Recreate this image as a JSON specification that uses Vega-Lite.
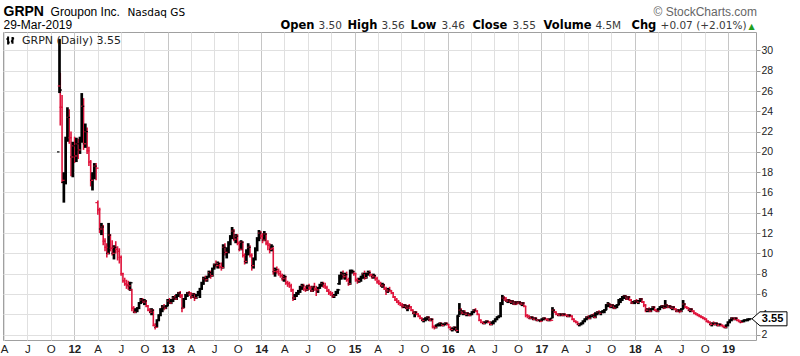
{
"$schema":"https://vega.github.io/schema/vega-lite/v6.json",
"width":753,"height":308,
"autosize":{"type":"none"},
"padding":{"left":3,"top":32,"right":44,"bottom":16},
"background":"white",
"config":{"view":{"stroke":"#a0a0a0","strokeWidth":1},"font":"Liberation Sans"},
"datasets":{"px":[
{"d":"2011-11-04","o":20,"h":31.14,"l":25.8,"c":26.1},
{"d":"2011-11-07","o":26.5,"h":27.8,"l":22.6,"c":24.4},
{"d":"2011-11-14","o":24.4,"h":25.6,"l":16.9,"c":17.2},
{"d":"2011-11-21","o":17.0,"h":18.0,"l":15.0,"c":17.8},
{"d":"2011-11-28","o":17.8,"h":21.5,"l":16.8,"c":21.2},
{"d":"2011-12-05","o":21.2,"h":24.4,"l":21.0,"c":23.4},
{"d":"2011-12-12","o":23.4,"h":24.2,"l":20.8,"c":21.4},
{"d":"2011-12-19","o":21.4,"h":22.0,"l":17.6,"c":19.5},
{"d":"2011-12-26","o":19.5,"h":21.0,"l":17.5,"c":20.6},
{"d":"2012-01-02","o":20.6,"h":21.5,"l":18.9,"c":19.6},
{"d":"2012-01-09","o":19.6,"h":21.4,"l":19.0,"c":20.8},
{"d":"2012-01-16","o":20.8,"h":21.3,"l":19.3,"c":20.2},
{"d":"2012-01-23","o":20.2,"h":21.5,"l":19.8,"c":21.2},
{"d":"2012-01-30","o":21.2,"h":25.8,"l":20.9,"c":24.5},
{"d":"2012-02-06","o":24.5,"h":25.3,"l":20.2,"c":20.8},
{"d":"2012-02-13","o":20.8,"h":22.8,"l":20.4,"c":22.0},
{"d":"2012-02-20","o":22.0,"h":22.4,"l":19.8,"c":20.1},
{"d":"2012-02-27","o":20.1,"h":20.5,"l":18.6,"c":19.0},
{"d":"2012-03-05","o":19.0,"h":19.2,"l":16.6,"c":17.2},
{"d":"2012-03-12","o":17.2,"h":18.0,"l":16.2,"c":17.7},
{"d":"2012-03-19","o":17.7,"h":18.9,"l":17.3,"c":18.6},
{"d":"2012-03-26","o":18.6,"h":18.9,"l":17.2,"c":18.4},
{"d":"2012-04-02","o":15.0,"h":15.2,"l":13.8,"c":14.3},
{"d":"2012-04-09","o":14.3,"h":14.5,"l":12.0,"c":12.4},
{"d":"2012-04-16","o":12.4,"h":13.0,"l":11.8,"c":12.6},
{"d":"2012-04-23","o":12.6,"h":12.8,"l":10.8,"c":11.2},
{"d":"2012-04-30","o":11.2,"h":11.5,"l":10.2,"c":10.6},
{"d":"2012-05-07","o":10.6,"h":11.0,"l":9.6,"c":10.0},
{"d":"2012-05-14","o":10.0,"h":13.0,"l":9.9,"c":11.8},
{"d":"2012-05-21","o":11.8,"h":11.9,"l":10.2,"c":10.5},
{"d":"2012-05-28","o":10.5,"h":11.3,"l":9.8,"c":10.0},
{"d":"2012-06-04","o":10.0,"h":10.8,"l":9.4,"c":10.6},
{"d":"2012-06-11","o":10.6,"h":11.2,"l":10.0,"c":10.4},
{"d":"2012-06-18","o":10.4,"h":10.7,"l":9.3,"c":10.2},
{"d":"2012-06-25","o":10.2,"h":10.5,"l":9.0,"c":9.6},
{"d":"2012-07-02","o":9.6,"h":9.8,"l":7.8,"c":8.0},
{"d":"2012-07-09","o":8.0,"h":8.1,"l":7.1,"c":7.3},
{"d":"2012-07-16","o":7.3,"h":7.6,"l":6.8,"c":7.0},
{"d":"2012-07-23","o":7.0,"h":7.4,"l":6.5,"c":6.9},
{"d":"2012-07-30","o":6.9,"h":7.3,"l":6.4,"c":6.8},
{"d":"2012-08-06","o":6.8,"h":7.2,"l":6.3,"c":7.1},
{"d":"2012-08-13","o":6.4,"h":6.5,"l":4.3,"c":4.6},
{"d":"2012-08-20","o":4.6,"h":4.8,"l":4.1,"c":4.2},
{"d":"2012-08-27","o":4.2,"h":4.6,"l":4.1,"c":4.4},
{"d":"2012-09-03","o":4.4,"h":4.7,"l":4.2,"c":4.6},
{"d":"2012-09-10","o":4.6,"h":5.2,"l":4.5,"c":5.1},
{"d":"2012-09-17","o":5.1,"h":5.6,"l":5.0,"c":5.4},
{"d":"2012-09-24","o":5.4,"h":5.6,"l":5.1,"c":5.2},
{"d":"2012-10-01","o":5.2,"h":5.5,"l":4.9,"c":5.3},
{"d":"2012-10-08","o":5.3,"h":5.4,"l":4.7,"c":4.8},
{"d":"2012-10-15","o":4.8,"h":4.9,"l":4.3,"c":4.4},
{"d":"2012-10-22","o":4.4,"h":4.6,"l":4.1,"c":4.2},
{"d":"2012-10-29","o":4.2,"h":4.6,"l":3.9,"c":4.4},
{"d":"2012-11-05","o":4.4,"h":4.5,"l":2.8,"c":2.9},
{"d":"2012-11-12","o":2.9,"h":3.1,"l":2.5,"c":2.7},
{"d":"2012-11-19","o":2.7,"h":3.5,"l":2.7,"c":3.4},
{"d":"2012-11-26","o":3.4,"h":4.0,"l":3.3,"c":3.9},
{"d":"2012-12-03","o":3.9,"h":4.6,"l":3.8,"c":4.4},
{"d":"2012-12-10","o":4.4,"h":4.9,"l":4.2,"c":4.7},
{"d":"2012-12-17","o":4.7,"h":5.0,"l":4.4,"c":4.6},
{"d":"2012-12-24","o":4.6,"h":4.9,"l":4.5,"c":4.8},
{"d":"2012-12-31","o":4.8,"h":5.5,"l":4.8,"c":5.3},
{"d":"2013-01-07","o":5.3,"h":5.6,"l":5.0,"c":5.1},
{"d":"2013-01-14","o":5.1,"h":5.5,"l":5.0,"c":5.4},
{"d":"2013-01-21","o":5.4,"h":5.8,"l":5.2,"c":5.6},
{"d":"2013-01-28","o":5.6,"h":5.9,"l":5.4,"c":5.5},
{"d":"2013-02-04","o":5.5,"h":6.0,"l":5.4,"c":5.9},
{"d":"2013-02-11","o":5.9,"h":6.2,"l":5.7,"c":6.1},
{"d":"2013-02-18","o":6.1,"h":6.3,"l":5.6,"c":5.8},
{"d":"2013-02-25","o":5.8,"h":6.0,"l":4.2,"c":4.6},
{"d":"2013-03-04","o":4.6,"h":5.6,"l":4.6,"c":5.5},
{"d":"2013-03-11","o":5.5,"h":6.0,"l":5.4,"c":5.9},
{"d":"2013-03-18","o":5.9,"h":6.2,"l":5.7,"c":6.1},
{"d":"2013-03-25","o":6.1,"h":6.3,"l":5.8,"c":6.0},
{"d":"2013-04-01","o":6.0,"h":6.2,"l":5.5,"c":5.7},
{"d":"2013-04-08","o":5.7,"h":6.1,"l":5.6,"c":6.0},
{"d":"2013-04-15","o":6.0,"h":6.1,"l":5.3,"c":5.6},
{"d":"2013-04-22","o":5.6,"h":6.0,"l":5.5,"c":5.9},
{"d":"2013-04-29","o":5.9,"h":6.3,"l":5.8,"c":6.2},
{"d":"2013-05-06","o":6.2,"h":6.6,"l":5.6,"c":6.5},
{"d":"2013-05-13","o":6.5,"h":7.2,"l":6.4,"c":7.0},
{"d":"2013-05-20","o":7.0,"h":7.7,"l":6.9,"c":7.5},
{"d":"2013-05-27","o":7.5,"h":7.8,"l":7.2,"c":7.4},
{"d":"2013-06-03","o":7.4,"h":7.8,"l":7.2,"c":7.7},
{"d":"2013-06-10","o":7.7,"h":8.3,"l":7.6,"c":8.1},
{"d":"2013-06-17","o":8.1,"h":8.3,"l":7.5,"c":7.8},
{"d":"2013-06-24","o":7.8,"h":8.6,"l":7.7,"c":8.5},
{"d":"2013-07-01","o":8.5,"h":9.0,"l":8.4,"c":8.9},
{"d":"2013-07-08","o":8.9,"h":9.3,"l":8.6,"c":8.8},
{"d":"2013-07-15","o":8.8,"h":9.2,"l":8.5,"c":9.0},
{"d":"2013-07-22","o":9.0,"h":9.1,"l":8.5,"c":8.7},
{"d":"2013-07-29","o":8.7,"h":9.1,"l":8.3,"c":8.6},
{"d":"2013-08-05","o":8.6,"h":10.9,"l":8.5,"c":10.6},
{"d":"2013-08-12","o":10.6,"h":11.0,"l":9.8,"c":10.1},
{"d":"2013-08-19","o":10.1,"h":10.6,"l":9.5,"c":10.4},
{"d":"2013-08-26","o":10.4,"h":11.2,"l":10.0,"c":11.0},
{"d":"2013-09-02","o":11.0,"h":11.8,"l":10.8,"c":11.6},
{"d":"2013-09-09","o":11.6,"h":12.6,"l":11.4,"c":12.2},
{"d":"2013-09-16","o":12.2,"h":12.4,"l":11.2,"c":11.4},
{"d":"2013-09-23","o":11.4,"h":11.9,"l":11.0,"c":11.7},
{"d":"2013-09-30","o":11.7,"h":11.9,"l":10.8,"c":11.0},
{"d":"2013-10-07","o":11.0,"h":11.2,"l":10.2,"c":10.4},
{"d":"2013-10-14","o":10.4,"h":11.3,"l":10.3,"c":11.1},
{"d":"2013-10-21","o":11.1,"h":11.2,"l":9.6,"c":9.8},
{"d":"2013-10-28","o":9.8,"h":10.0,"l":8.9,"c":9.2},
{"d":"2013-11-04","o":9.2,"h":10.4,"l":9.0,"c":10.2},
{"d":"2013-11-11","o":10.2,"h":11.0,"l":9.8,"c":10.6},
{"d":"2013-11-18","o":10.6,"h":10.8,"l":9.6,"c":9.8},
{"d":"2013-11-25","o":9.8,"h":10.0,"l":8.3,"c":8.8},
{"d":"2013-12-02","o":8.8,"h":9.6,"l":8.5,"c":9.4},
{"d":"2013-12-09","o":9.4,"h":10.6,"l":9.3,"c":10.4},
{"d":"2013-12-16","o":10.4,"h":11.6,"l":10.2,"c":11.4},
{"d":"2013-12-23","o":11.4,"h":12.3,"l":11.2,"c":12.0},
{"d":"2013-12-30","o":12.0,"h":12.2,"l":11.4,"c":11.7},
{"d":"2014-01-06","o":11.7,"h":12.0,"l":11.0,"c":11.3},
{"d":"2014-01-13","o":11.3,"h":12.2,"l":11.2,"c":11.9},
{"d":"2014-01-20","o":11.9,"h":12.0,"l":10.8,"c":11.0},
{"d":"2014-01-27","o":11.0,"h":11.3,"l":10.3,"c":10.8},
{"d":"2014-02-03","o":10.8,"h":11.0,"l":10.0,"c":10.4},
{"d":"2014-02-10","o":10.4,"h":10.9,"l":10.2,"c":10.7},
{"d":"2014-02-17","o":10.5,"h":10.6,"l":7.9,"c":8.2},
{"d":"2014-02-24","o":8.2,"h":8.6,"l":7.7,"c":8.4},
{"d":"2014-03-03","o":8.4,"h":8.7,"l":8.0,"c":8.2},
{"d":"2014-03-10","o":8.2,"h":8.5,"l":7.8,"c":8.0},
{"d":"2014-03-17","o":8.0,"h":8.3,"l":7.6,"c":7.8},
{"d":"2014-03-24","o":7.8,"h":8.0,"l":7.3,"c":7.5},
{"d":"2014-03-31","o":7.5,"h":7.9,"l":7.2,"c":7.7},
{"d":"2014-04-07","o":7.7,"h":7.8,"l":6.9,"c":7.1},
{"d":"2014-04-14","o":7.1,"h":7.3,"l":6.7,"c":7.0},
{"d":"2014-04-21","o":7.0,"h":7.2,"l":6.6,"c":6.8},
{"d":"2014-04-28","o":6.8,"h":7.0,"l":6.2,"c":6.4},
{"d":"2014-05-05","o":6.4,"h":6.5,"l":5.3,"c":5.6},
{"d":"2014-05-12","o":5.6,"h":6.0,"l":5.4,"c":5.9},
{"d":"2014-05-19","o":5.9,"h":6.2,"l":5.7,"c":6.1},
{"d":"2014-05-26","o":6.1,"h":6.4,"l":5.9,"c":6.3},
{"d":"2014-06-02","o":6.3,"h":6.8,"l":6.1,"c":6.6},
{"d":"2014-06-09","o":6.6,"h":7.0,"l":6.4,"c":6.8},
{"d":"2014-06-16","o":6.8,"h":7.0,"l":6.3,"c":6.5},
{"d":"2014-06-23","o":6.5,"h":6.8,"l":6.2,"c":6.4},
{"d":"2014-06-30","o":6.4,"h":6.9,"l":6.3,"c":6.8},
{"d":"2014-07-07","o":6.8,"h":7.0,"l":6.4,"c":6.6},
{"d":"2014-07-14","o":6.6,"h":6.8,"l":6.2,"c":6.3},
{"d":"2014-07-21","o":6.3,"h":6.8,"l":6.2,"c":6.7},
{"d":"2014-07-28","o":6.7,"h":7.1,"l":6.3,"c":6.5},
{"d":"2014-08-04","o":6.5,"h":6.8,"l":5.8,"c":6.4},
{"d":"2014-08-11","o":6.4,"h":6.7,"l":6.1,"c":6.6},
{"d":"2014-08-18","o":6.6,"h":7.0,"l":6.5,"c":6.9},
{"d":"2014-08-25","o":6.9,"h":7.2,"l":6.7,"c":7.0},
{"d":"2014-09-01","o":7.0,"h":7.2,"l":6.6,"c":6.8},
{"d":"2014-09-08","o":6.8,"h":7.1,"l":6.5,"c":6.6},
{"d":"2014-09-15","o":6.6,"h":6.8,"l":6.2,"c":6.3},
{"d":"2014-09-22","o":6.3,"h":6.5,"l":5.9,"c":6.1},
{"d":"2014-09-29","o":6.1,"h":6.3,"l":5.8,"c":6.0},
{"d":"2014-10-06","o":6.0,"h":6.2,"l":5.6,"c":5.8},
{"d":"2014-10-13","o":5.8,"h":6.0,"l":5.6,"c":5.9},
{"d":"2014-10-20","o":5.9,"h":6.3,"l":5.8,"c":6.2},
{"d":"2014-10-27","o":6.2,"h":6.5,"l":6.0,"c":6.4},
{"d":"2014-11-03","o":7.0,"h":7.9,"l":6.9,"c":7.6},
{"d":"2014-11-10","o":7.6,"h":8.2,"l":7.4,"c":8.0},
{"d":"2014-11-17","o":8.0,"h":8.3,"l":7.5,"c":7.7},
{"d":"2014-11-24","o":7.7,"h":8.1,"l":7.4,"c":7.9},
{"d":"2014-12-01","o":7.9,"h":8.2,"l":7.2,"c":7.4},
{"d":"2014-12-08","o":7.4,"h":7.6,"l":6.8,"c":7.0},
{"d":"2014-12-15","o":7.0,"h":8.4,"l":6.9,"c":8.2},
{"d":"2014-12-22","o":8.2,"h":8.4,"l":8.0,"c":8.2},
{"d":"2014-12-29","o":8.2,"h":8.3,"l":7.8,"c":8.0},
{"d":"2015-01-05","o":8.0,"h":8.1,"l":7.2,"c":7.4},
{"d":"2015-01-12","o":7.4,"h":7.6,"l":7.0,"c":7.3},
{"d":"2015-01-19","o":7.3,"h":7.6,"l":7.1,"c":7.5},
{"d":"2015-01-26","o":7.5,"h":7.8,"l":7.2,"c":7.6},
{"d":"2015-02-02","o":7.6,"h":8.1,"l":7.5,"c":8.0},
{"d":"2015-02-09","o":8.0,"h":8.3,"l":7.4,"c":7.6},
{"d":"2015-02-16","o":7.6,"h":8.1,"l":7.5,"c":8.0},
{"d":"2015-02-23","o":8.0,"h":8.3,"l":7.8,"c":8.1},
{"d":"2015-03-02","o":8.1,"h":8.3,"l":7.7,"c":7.9},
{"d":"2015-03-09","o":7.9,"h":8.0,"l":7.5,"c":7.7},
{"d":"2015-03-16","o":7.7,"h":8.0,"l":7.5,"c":7.8},
{"d":"2015-03-23","o":7.8,"h":7.9,"l":7.3,"c":7.5},
{"d":"2015-03-30","o":7.5,"h":7.7,"l":7.0,"c":7.2},
{"d":"2015-04-06","o":7.2,"h":7.4,"l":6.9,"c":7.0},
{"d":"2015-04-13","o":7.0,"h":7.2,"l":6.7,"c":6.8},
{"d":"2015-04-20","o":6.8,"h":7.1,"l":6.6,"c":6.9},
{"d":"2015-04-27","o":6.9,"h":7.0,"l":6.4,"c":6.5},
{"d":"2015-05-04","o":6.5,"h":6.7,"l":5.9,"c":6.3},
{"d":"2015-05-11","o":6.3,"h":6.6,"l":6.1,"c":6.4},
{"d":"2015-05-18","o":6.4,"h":6.7,"l":6.2,"c":6.3},
{"d":"2015-05-25","o":6.3,"h":6.4,"l":6.0,"c":6.1},
{"d":"2015-06-01","o":6.1,"h":6.2,"l":5.6,"c":5.7},
{"d":"2015-06-08","o":5.7,"h":5.8,"l":5.3,"c":5.4},
{"d":"2015-06-15","o":5.4,"h":5.6,"l":5.1,"c":5.2},
{"d":"2015-06-22","o":5.2,"h":5.4,"l":4.9,"c":5.1},
{"d":"2015-06-29","o":5.1,"h":5.2,"l":4.8,"c":4.9},
{"d":"2015-07-06","o":4.9,"h":5.1,"l":4.6,"c":4.8},
{"d":"2015-07-13","o":4.8,"h":5.0,"l":4.6,"c":4.9},
{"d":"2015-07-20","o":4.9,"h":5.0,"l":4.5,"c":4.6},
{"d":"2015-07-27","o":4.6,"h":4.9,"l":4.3,"c":4.8},
{"d":"2015-08-03","o":4.8,"h":5.0,"l":4.5,"c":4.7},
{"d":"2015-08-10","o":4.7,"h":4.8,"l":4.3,"c":4.4},
{"d":"2015-08-17","o":4.4,"h":4.5,"l":4.0,"c":4.1},
{"d":"2015-08-24","o":4.1,"h":4.3,"l":3.7,"c":4.2},
{"d":"2015-08-31","o":4.2,"h":4.3,"l":3.9,"c":4.0},
{"d":"2015-09-07","o":4.0,"h":4.1,"l":3.7,"c":3.8},
{"d":"2015-09-14","o":3.8,"h":3.9,"l":3.5,"c":3.6},
{"d":"2015-09-21","o":3.6,"h":3.7,"l":3.3,"c":3.4},
{"d":"2015-09-28","o":3.4,"h":3.6,"l":3.2,"c":3.5},
{"d":"2015-10-05","o":3.5,"h":3.7,"l":3.3,"c":3.6},
{"d":"2015-10-12","o":3.6,"h":3.8,"l":3.4,"c":3.7},
{"d":"2015-10-19","o":3.7,"h":3.8,"l":3.3,"c":3.4},
{"d":"2015-10-26","o":3.4,"h":3.6,"l":3.3,"c":3.5},
{"d":"2015-11-02","o":3.5,"h":3.6,"l":2.6,"c":2.8},
{"d":"2015-11-09","o":2.8,"h":2.9,"l":2.5,"c":2.7},
{"d":"2015-11-16","o":2.7,"h":3.0,"l":2.6,"c":2.9},
{"d":"2015-11-23","o":2.9,"h":3.1,"l":2.8,"c":3.0},
{"d":"2015-11-30","o":3.0,"h":3.2,"l":2.8,"c":3.1},
{"d":"2015-12-07","o":3.1,"h":3.2,"l":2.8,"c":2.9},
{"d":"2015-12-14","o":2.9,"h":3.1,"l":2.8,"c":3.0},
{"d":"2015-12-21","o":3.0,"h":3.2,"l":2.9,"c":3.1},
{"d":"2015-12-28","o":3.1,"h":3.2,"l":2.9,"c":3.0},
{"d":"2016-01-04","o":3.0,"h":3.0,"l":2.6,"c":2.7},
{"d":"2016-01-11","o":2.7,"h":2.8,"l":2.4,"c":2.5},
{"d":"2016-01-18","o":2.5,"h":2.7,"l":2.3,"c":2.6},
{"d":"2016-01-25","o":2.6,"h":2.8,"l":2.4,"c":2.7},
{"d":"2016-02-01","o":2.7,"h":2.8,"l":2.3,"c":2.4},
{"d":"2016-02-08","o":2.4,"h":3.9,"l":2.15,"c":3.8},
{"d":"2016-02-15","o":3.9,"h":5.1,"l":3.9,"c":4.4},
{"d":"2016-02-22","o":4.4,"h":4.6,"l":4.0,"c":4.1},
{"d":"2016-02-29","o":4.1,"h":4.4,"l":3.9,"c":4.2},
{"d":"2016-03-07","o":4.2,"h":4.4,"l":3.9,"c":4.0},
{"d":"2016-03-14","o":4.0,"h":4.2,"l":3.8,"c":4.1},
{"d":"2016-03-21","o":4.1,"h":4.2,"l":3.8,"c":3.9},
{"d":"2016-03-28","o":3.9,"h":4.1,"l":3.8,"c":4.0},
{"d":"2016-04-04","o":4.0,"h":4.3,"l":3.9,"c":4.2},
{"d":"2016-04-11","o":4.2,"h":4.5,"l":4.1,"c":4.4},
{"d":"2016-04-18","o":4.4,"h":4.6,"l":4.2,"c":4.3},
{"d":"2016-04-25","o":4.3,"h":4.4,"l":3.9,"c":4.0},
{"d":"2016-05-02","o":4.0,"h":4.0,"l":3.3,"c":3.4},
{"d":"2016-05-09","o":3.4,"h":3.5,"l":3.1,"c":3.2},
{"d":"2016-05-16","o":3.2,"h":3.3,"l":3.0,"c":3.1},
{"d":"2016-05-23","o":3.1,"h":3.3,"l":3.0,"c":3.2},
{"d":"2016-05-30","o":3.2,"h":3.4,"l":3.1,"c":3.3},
{"d":"2016-06-06","o":3.3,"h":3.4,"l":3.1,"c":3.2},
{"d":"2016-06-13","o":3.2,"h":3.3,"l":2.9,"c":3.0},
{"d":"2016-06-20","o":3.0,"h":3.3,"l":2.9,"c":3.1},
{"d":"2016-06-27","o":3.1,"h":3.4,"l":3.0,"c":3.3},
{"d":"2016-07-04","o":3.3,"h":3.6,"l":3.2,"c":3.5},
{"d":"2016-07-11","o":3.5,"h":3.8,"l":3.4,"c":3.7},
{"d":"2016-07-18","o":3.7,"h":3.9,"l":3.6,"c":3.8},
{"d":"2016-07-25","o":3.8,"h":5.2,"l":3.7,"c":5.0},
{"d":"2016-08-01","o":5.0,"h":5.9,"l":4.9,"c":5.6},
{"d":"2016-08-08","o":5.6,"h":5.8,"l":5.3,"c":5.5},
{"d":"2016-08-15","o":5.5,"h":5.7,"l":5.2,"c":5.3},
{"d":"2016-08-22","o":5.3,"h":5.5,"l":5.1,"c":5.4},
{"d":"2016-08-29","o":5.4,"h":5.5,"l":5.1,"c":5.2},
{"d":"2016-09-05","o":5.2,"h":5.4,"l":5.0,"c":5.3},
{"d":"2016-09-12","o":5.3,"h":5.4,"l":4.9,"c":5.0},
{"d":"2016-09-19","o":5.0,"h":5.3,"l":4.9,"c":5.2},
{"d":"2016-09-26","o":5.2,"h":5.3,"l":4.9,"c":5.1},
{"d":"2016-10-03","o":5.1,"h":5.3,"l":5.0,"c":5.2},
{"d":"2016-10-10","o":5.2,"h":5.3,"l":4.9,"c":5.0},
{"d":"2016-10-17","o":5.0,"h":5.2,"l":4.8,"c":5.1},
{"d":"2016-10-24","o":5.1,"h":5.2,"l":4.7,"c":4.8},
{"d":"2016-10-31","o":4.8,"h":4.8,"l":3.7,"c":3.9},
{"d":"2016-11-07","o":3.9,"h":4.0,"l":3.6,"c":3.8},
{"d":"2016-11-14","o":3.8,"h":3.9,"l":3.5,"c":3.6},
{"d":"2016-11-21","o":3.6,"h":3.8,"l":3.5,"c":3.7},
{"d":"2016-11-28","o":3.7,"h":3.8,"l":3.4,"c":3.5},
{"d":"2016-12-05","o":3.5,"h":3.7,"l":3.4,"c":3.6},
{"d":"2016-12-12","o":3.6,"h":3.7,"l":3.3,"c":3.4},
{"d":"2016-12-19","o":3.4,"h":3.5,"l":3.3,"c":3.4},
{"d":"2016-12-26","o":3.4,"h":3.5,"l":3.2,"c":3.3},
{"d":"2017-01-02","o":3.3,"h":3.6,"l":3.3,"c":3.5},
{"d":"2017-01-09","o":3.5,"h":3.7,"l":3.4,"c":3.6},
{"d":"2017-01-16","o":3.6,"h":3.7,"l":3.4,"c":3.5},
{"d":"2017-01-23","o":3.5,"h":3.6,"l":3.3,"c":3.4},
{"d":"2017-01-30","o":3.4,"h":3.6,"l":3.3,"c":3.5},
{"d":"2017-02-06","o":3.5,"h":3.6,"l":3.3,"c":3.4},
{"d":"2017-02-13","o":3.6,"h":4.7,"l":3.6,"c":4.4},
{"d":"2017-02-20","o":4.4,"h":4.5,"l":4.1,"c":4.2},
{"d":"2017-02-27","o":4.2,"h":4.3,"l":3.9,"c":4.0},
{"d":"2017-03-06","o":4.0,"h":4.1,"l":3.8,"c":3.9},
{"d":"2017-03-13","o":3.9,"h":4.1,"l":3.8,"c":4.0},
{"d":"2017-03-20","o":4.0,"h":4.1,"l":3.8,"c":3.9},
{"d":"2017-03-27","o":3.9,"h":4.1,"l":3.8,"c":4.0},
{"d":"2017-04-03","o":4.0,"h":4.1,"l":3.8,"c":3.9},
{"d":"2017-04-10","o":3.9,"h":4.0,"l":3.7,"c":3.8},
{"d":"2017-04-17","o":3.8,"h":4.0,"l":3.7,"c":3.9},
{"d":"2017-04-24","o":3.9,"h":4.0,"l":3.7,"c":3.8},
{"d":"2017-05-01","o":3.8,"h":3.9,"l":3.4,"c":3.5},
{"d":"2017-05-08","o":3.5,"h":3.6,"l":3.2,"c":3.3},
{"d":"2017-05-15","o":3.3,"h":3.4,"l":3.1,"c":3.2},
{"d":"2017-05-22","o":3.2,"h":3.3,"l":2.9,"c":3.0},
{"d":"2017-05-29","o":3.0,"h":3.1,"l":2.8,"c":3.0},
{"d":"2017-06-05","o":3.0,"h":3.2,"l":2.9,"c":3.1},
{"d":"2017-06-12","o":3.1,"h":3.4,"l":3.0,"c":3.3},
{"d":"2017-06-19","o":3.3,"h":3.6,"l":3.2,"c":3.5},
{"d":"2017-06-26","o":3.5,"h":3.8,"l":3.4,"c":3.7},
{"d":"2017-07-03","o":3.7,"h":3.9,"l":3.5,"c":3.6},
{"d":"2017-07-10","o":3.6,"h":3.9,"l":3.5,"c":3.8},
{"d":"2017-07-17","o":3.8,"h":4.0,"l":3.7,"c":3.9},
{"d":"2017-07-24","o":3.9,"h":4.1,"l":3.6,"c":3.7},
{"d":"2017-07-31","o":3.7,"h":4.2,"l":3.6,"c":4.0},
{"d":"2017-08-07","o":4.0,"h":4.3,"l":3.9,"c":4.2},
{"d":"2017-08-14","o":4.2,"h":4.4,"l":4.0,"c":4.1},
{"d":"2017-08-21","o":4.1,"h":4.3,"l":3.9,"c":4.2},
{"d":"2017-08-28","o":4.2,"h":4.4,"l":4.1,"c":4.3},
{"d":"2017-09-04","o":4.3,"h":4.5,"l":4.1,"c":4.4},
{"d":"2017-09-11","o":4.4,"h":5.0,"l":4.4,"c":4.9},
{"d":"2017-09-18","o":4.9,"h":5.2,"l":4.7,"c":5.0},
{"d":"2017-09-25","o":5.0,"h":5.1,"l":4.6,"c":4.8},
{"d":"2017-10-02","o":4.8,"h":5.0,"l":4.6,"c":4.9},
{"d":"2017-10-09","o":4.9,"h":5.0,"l":4.5,"c":4.6},
{"d":"2017-10-16","o":4.6,"h":4.9,"l":4.5,"c":4.8},
{"d":"2017-10-23","o":4.8,"h":5.0,"l":4.6,"c":4.9},
{"d":"2017-10-30","o":4.9,"h":5.5,"l":4.9,"c":5.3},
{"d":"2017-11-06","o":5.3,"h":5.6,"l":5.1,"c":5.4},
{"d":"2017-11-13","o":5.4,"h":5.8,"l":5.3,"c":5.7},
{"d":"2017-11-20","o":5.7,"h":5.9,"l":5.5,"c":5.8},
{"d":"2017-11-27","o":5.8,"h":5.9,"l":5.4,"c":5.5},
{"d":"2017-12-04","o":5.5,"h":5.8,"l":5.4,"c":5.7},
{"d":"2017-12-11","o":5.7,"h":5.8,"l":5.3,"c":5.4},
{"d":"2017-12-18","o":5.4,"h":5.5,"l":5.0,"c":5.1},
{"d":"2017-12-25","o":5.1,"h":5.3,"l":5.0,"c":5.1},
{"d":"2018-01-01","o":5.1,"h":5.4,"l":5.0,"c":5.3},
{"d":"2018-01-08","o":5.3,"h":5.5,"l":5.1,"c":5.2},
{"d":"2018-01-15","o":5.2,"h":5.4,"l":5.0,"c":5.3},
{"d":"2018-01-22","o":5.3,"h":5.6,"l":5.2,"c":5.5},
{"d":"2018-01-29","o":5.5,"h":5.6,"l":5.1,"c":5.2},
{"d":"2018-02-05","o":5.2,"h":5.3,"l":4.7,"c":4.9},
{"d":"2018-02-12","o":4.9,"h":5.0,"l":4.2,"c":4.4},
{"d":"2018-02-19","o":4.4,"h":4.6,"l":4.2,"c":4.5},
{"d":"2018-02-26","o":4.5,"h":4.7,"l":4.2,"c":4.3},
{"d":"2018-03-05","o":4.3,"h":4.6,"l":4.2,"c":4.5},
{"d":"2018-03-12","o":4.5,"h":4.8,"l":4.4,"c":4.7},
{"d":"2018-03-19","o":4.7,"h":4.8,"l":4.3,"c":4.4},
{"d":"2018-03-26","o":4.4,"h":4.5,"l":4.2,"c":4.3},
{"d":"2018-04-02","o":4.3,"h":4.6,"l":4.2,"c":4.5},
{"d":"2018-04-09","o":4.5,"h":4.8,"l":4.4,"c":4.7},
{"d":"2018-04-16","o":4.7,"h":4.9,"l":4.6,"c":4.8},
{"d":"2018-04-23","o":4.8,"h":4.9,"l":4.5,"c":4.6},
{"d":"2018-04-30","o":4.6,"h":5.4,"l":4.6,"c":4.9},
{"d":"2018-05-07","o":4.9,"h":5.0,"l":4.6,"c":4.7},
{"d":"2018-05-14","o":4.7,"h":4.9,"l":4.6,"c":4.8},
{"d":"2018-05-21","o":4.8,"h":4.9,"l":4.5,"c":4.6},
{"d":"2018-05-28","o":4.6,"h":4.8,"l":4.4,"c":4.7},
{"d":"2018-06-04","o":4.7,"h":4.8,"l":4.4,"c":4.5},
{"d":"2018-06-11","o":4.5,"h":4.6,"l":4.2,"c":4.3},
{"d":"2018-06-18","o":4.3,"h":4.5,"l":4.2,"c":4.4},
{"d":"2018-06-25","o":4.4,"h":4.5,"l":4.1,"c":4.3},
{"d":"2018-07-02","o":4.3,"h":4.6,"l":4.2,"c":4.5},
{"d":"2018-07-09","o":4.5,"h":5.4,"l":4.5,"c":5.0},
{"d":"2018-07-16","o":5.0,"h":5.1,"l":4.6,"c":4.7},
{"d":"2018-07-23","o":4.7,"h":4.8,"l":4.5,"c":4.6},
{"d":"2018-07-30","o":4.6,"h":4.7,"l":4.3,"c":4.4},
{"d":"2018-08-06","o":4.4,"h":4.6,"l":4.2,"c":4.5},
{"d":"2018-08-13","o":4.5,"h":4.6,"l":4.2,"c":4.3},
{"d":"2018-08-20","o":4.3,"h":4.4,"l":4.0,"c":4.1},
{"d":"2018-08-27","o":4.1,"h":4.2,"l":3.9,"c":4.0},
{"d":"2018-09-03","o":4.0,"h":4.1,"l":3.8,"c":3.9},
{"d":"2018-09-10","o":3.9,"h":4.0,"l":3.7,"c":3.8},
{"d":"2018-09-17","o":3.8,"h":3.9,"l":3.6,"c":3.7},
{"d":"2018-09-24","o":3.7,"h":3.8,"l":3.5,"c":3.6},
{"d":"2018-10-01","o":3.6,"h":3.7,"l":3.4,"c":3.5},
{"d":"2018-10-08","o":3.5,"h":3.6,"l":3.2,"c":3.3},
{"d":"2018-10-15","o":3.3,"h":3.4,"l":3.1,"c":3.2},
{"d":"2018-10-22","o":3.2,"h":3.3,"l":2.9,"c":3.0},
{"d":"2018-10-29","o":3.0,"h":3.2,"l":2.8,"c":3.1},
{"d":"2018-11-05","o":3.1,"h":3.3,"l":2.9,"c":3.0},
{"d":"2018-11-12","o":3.0,"h":3.2,"l":2.9,"c":3.1},
{"d":"2018-11-19","o":3.1,"h":3.2,"l":2.8,"c":2.9},
{"d":"2018-11-26","o":2.9,"h":3.1,"l":2.8,"c":3.0},
{"d":"2018-12-03","o":3.0,"h":3.1,"l":2.8,"c":2.9},
{"d":"2018-12-10","o":2.9,"h":3.0,"l":2.7,"c":2.8},
{"d":"2018-12-17","o":2.8,"h":2.9,"l":2.6,"c":2.7},
{"d":"2018-12-24","o":2.7,"h":3.0,"l":2.6,"c":2.9},
{"d":"2018-12-31","o":2.9,"h":3.3,"l":2.8,"c":3.2},
{"d":"2019-01-07","o":3.2,"h":3.5,"l":3.1,"c":3.4},
{"d":"2019-01-14","o":3.4,"h":3.7,"l":3.3,"c":3.6},
{"d":"2019-01-21","o":3.6,"h":3.7,"l":3.4,"c":3.5},
{"d":"2019-01-28","o":3.5,"h":3.7,"l":3.4,"c":3.6},
{"d":"2019-02-04","o":3.6,"h":3.7,"l":3.3,"c":3.4},
{"d":"2019-02-11","o":3.4,"h":3.5,"l":3.2,"c":3.3},
{"d":"2019-02-18","o":3.3,"h":3.4,"l":3.1,"c":3.2},
{"d":"2019-02-25","o":3.2,"h":3.4,"l":3.2,"c":3.3},
{"d":"2019-03-04","o":3.3,"h":3.5,"l":3.2,"c":3.4},
{"d":"2019-03-11","o":3.4,"h":3.5,"l":3.3,"c":3.4},
{"d":"2019-03-18","o":3.4,"h":3.6,"l":3.3,"c":3.5},
{"d":"2019-03-25","o":3.45,"h":3.6,"l":3.4,"c":3.55}
],
"last":[{"d":"2019-03-29","p":3.55}]},
"layer":[
{
"data":{"name":"px"},
"transform":[{"calculate":"datum.c >= datum.o ? 'GRPN (Daily) 3.55' : 'down'","as":"dir"},{"calculate":"datum.c >= datum.o ? 1 : 0","as":"up"}],
"mark":{"type":"rule"},
"encoding":{
"x":{"field":"d","type":"temporal","scale":{"domain":[{"year":2011,"month":3,"date":28},{"year":2019,"month":4,"date":20}]},
"axis":{"orient":"bottom","title":null,
"values":[{"year":2011,"month":4,"date":1},{"year":2011,"month":7,"date":1},{"year":2011,"month":10,"date":1},
{"year":2012,"month":1,"date":1},{"year":2012,"month":4,"date":1},{"year":2012,"month":7,"date":1},{"year":2012,"month":10,"date":1},
{"year":2013,"month":1,"date":1},{"year":2013,"month":4,"date":1},{"year":2013,"month":7,"date":1},{"year":2013,"month":10,"date":1},
{"year":2014,"month":1,"date":1},{"year":2014,"month":4,"date":1},{"year":2014,"month":7,"date":1},{"year":2014,"month":10,"date":1},
{"year":2015,"month":1,"date":1},{"year":2015,"month":4,"date":1},{"year":2015,"month":7,"date":1},{"year":2015,"month":10,"date":1},
{"year":2016,"month":1,"date":1},{"year":2016,"month":4,"date":1},{"year":2016,"month":7,"date":1},{"year":2016,"month":10,"date":1},
{"year":2017,"month":1,"date":1},{"year":2017,"month":4,"date":1},{"year":2017,"month":7,"date":1},{"year":2017,"month":10,"date":1},
{"year":2018,"month":1,"date":1},{"year":2018,"month":4,"date":1},{"year":2018,"month":7,"date":1},{"year":2018,"month":10,"date":1},
{"year":2019,"month":1,"date":1}],
"labelExpr":"month(datum.value) == 0 ? timeFormat(datum.value, '%y') : ['J','F','M','A','M','J','J','A','S','O','N','D'][month(datum.value)]",
"labelFontWeight":{"condition":{"test":"month(datum.value) == 0","value":"bold"},"value":"normal"},
"gridColor":{"condition":{"test":"month(datum.value) == 0","value":"#c6c6c6"},"value":"#e0e0e0"},
"grid":true,"domain":false,"ticks":false,"tickSize":0,"labelPadding":3,
"labelFont":"Liberation Sans","labelFontSize":11.5,"labelColor":"#222222","labelAngle":0,"labelAlign":"center","labelBaseline":"top",
"labelOverlap":false,"labelFlush":false,"labelBound":false}},
"y":{"field":"l","type":"quantitative","scale":{"domain":[1.46,31.82],"nice":false,"zero":false},
"axis":{"orient":"right","title":null,"values":[2,4,6,8,10,12,14,16,18,20,22,24,26,28,30],"grid":true,"gridColor":"#e0e0e0","domain":false,"ticks":true,"tickSize":4,"tickColor":"#999999","labelPadding":1,"labelFont":"Liberation Sans","labelFontSize":10.5,"labelColor":"#222222","labelOverlap":false,"labelFlush":false,"labelBound":false}},
"y2":{"field":"h"},
"order":{"field":"up","type":"quantitative"},
"strokeWidth":{"condition":{"test":"datum.c < datum.o","value":1.6},"value":2.7},
"color":{"field":"dir","type":"nominal","scale":{"domain":["GRPN (Daily) 3.55","down"],"range":["#000000","#e0143c"]},
"legend":{"title":null,"orient":"none","legendX":2,"legendY":3,"values":["GRPN (Daily) 3.55"],
"symbolType":"M-0.6,-1V1M-1,-0.4H-0.6M-0.6,0.5H-0.2M0.5,-0.9V0.8M0.1,0.2H0.5M0.5,-0.5H0.9",
"symbolSize":64,"symbolStrokeWidth":2,"labelFont":"DejaVu Sans","labelFontSize":11,"labelColor":"#222222","labelOffset":6,"padding":0}}
}
},
{
"data":{"name":"px"},
"transform":[{"calculate":"datum.c >= datum.o ? 'GRPN (Daily) 3.55' : 'down'","as":"dir"}],
"mark":{"type":"point","shape":"M-1,0H0","filled":false,"size":25,"strokeWidth":1.2,"opacity":1},
"encoding":{
"x":{"field":"d","type":"temporal","scale":{"domain":[{"year":2011,"month":3,"date":28},{"year":2019,"month":4,"date":20}]},
"axis":{"orient":"top","title":null,"offset":0,"grid":false,"domain":false,"ticks":false,"tickSize":0,"labelPadding":4,
"labelAlign":"left","labelBaseline":"alphabetic","labelAngle":0,"labelOverlap":false,"labelFlush":false,"labelBound":false,
"values":[{"year":2011,"month":3,"date":28},{"year":2014,"month":3,"date":15},{"year":2014,"month":8,"date":11},{"year":2014,"month":12,"date":2},{"year":2015,"month":4,"date":14},{"year":2015,"month":8,"date":6},{"year":2015,"month":12,"date":5},{"year":2016,"month":4,"date":4},{"year":2016,"month":9,"date":8},{"year":2017,"month":1,"date":7},{"year":2017,"month":7,"date":29},{"year":2017,"month":12,"date":17},{"year":2018,"month":4,"date":10},{"year":2019,"month":3,"date":20}],
"labelExpr":"['29-Mar-2019','Open','3.50','High','3.56','Low','3.46','Close','3.55','Volume','4.5M','Chg','+0.07 (+2.01%)','▲'][indexof(['2011-03-28','2014-03-15','2014-08-11','2014-12-02','2015-04-14','2015-08-06','2015-12-05','2016-04-04','2016-09-08','2017-01-07','2017-07-29','2017-12-17','2018-04-10','2019-03-20'], timeFormat(datum.value, '%Y-%m-%d'))]",
"labelFont":{"condition":{"test":"timeFormat(datum.value, '%Y-%m-%d') == '2011-03-28'","value":"Liberation Sans"},"value":"DejaVu Sans"},
"labelFontWeight":{"condition":{"test":"indexof(['2014-03-15','2014-12-02','2015-08-06','2016-04-04','2017-01-07','2017-12-17'], timeFormat(datum.value, '%Y-%m-%d')) >= 0","value":"bold"},"value":"normal"},
"labelFontSize":{"condition":[{"test":"timeFormat(datum.value, '%Y-%m-%d') == '2019-03-20'","value":8},{"test":"timeFormat(datum.value, '%Y-%m-%d') == '2011-03-28'","value":12},{"test":"indexof(['2014-03-15','2014-12-02','2015-08-06','2016-04-04','2017-01-07','2017-12-17'], timeFormat(datum.value, '%Y-%m-%d')) >= 0","value":11.5}],"value":10.5},
"labelColor":{"condition":[{"test":"timeFormat(datum.value, '%Y-%m-%d') == '2019-03-20'","value":"#1f9e1f"},{"test":"indexof(['2011-03-28','2014-03-15','2014-12-02','2015-08-06','2016-04-04','2017-01-07','2017-12-17'], timeFormat(datum.value, '%Y-%m-%d')) >= 0","value":"#000000"}],"value":"#3a3a3a"}}},
"y":{"field":"o","type":"quantitative","scale":{"domain":[1.46,31.82],"nice":false,"zero":false},
"axis":{"orient":"right","title":null,"values":[2,4,6,8,10,12,14,16,18,20,22,24,26,28,30],"grid":true,"gridColor":"#e0e0e0","domain":false,"ticks":true,"tickSize":4,"tickColor":"#999999","labelPadding":1,"labelFont":"Liberation Sans","labelFontSize":10.5,"labelColor":"#222222","labelOverlap":false,"labelFlush":false,"labelBound":false}},
"color":{"field":"dir","type":"nominal","scale":{"domain":["GRPN (Daily) 3.55","down"],"range":["#000000","#e0143c"]},"legend":null}
}
},
{
"data":{"name":"px"},
"transform":[{"calculate":"datum.c >= datum.o ? 'GRPN (Daily) 3.55' : 'down'","as":"dir"}],
"mark":{"type":"point","shape":"M0,0H1","filled":false,"size":25,"strokeWidth":1.2,"opacity":1},
"encoding":{
"x":{"field":"d","type":"temporal","scale":{"domain":[{"year":2011,"month":3,"date":28},{"year":2019,"month":4,"date":20}]},
"axis":{"orient":"top","title":null,"offset":13,"grid":false,"domain":false,"ticks":false,"tickSize":0,"labelPadding":4,
"labelAlign":"left","labelBaseline":"alphabetic","labelAngle":0,"labelOverlap":false,"labelFlush":false,"labelBound":false,
"values":[{"year":2011,"month":3,"date":28},{"year":2011,"month":9,"date":28},{"year":2012,"month":7,"date":25},{"year":2018,"month":3,"date":13}],
"labelExpr":"['GRPN','Groupon Inc.','Nasdaq GS','© StockCharts.com'][indexof(['2011-03-28','2011-09-28','2012-07-25','2018-03-13'], timeFormat(datum.value, '%Y-%m-%d'))]",
"labelFont":{"condition":{"test":"timeFormat(datum.value, '%Y-%m-%d') == '2012-07-25'","value":"DejaVu Sans"},"value":"Liberation Sans"},
"labelFontWeight":{"condition":{"test":"timeFormat(datum.value, '%Y-%m-%d') == '2011-03-28'","value":"bold"},"value":"normal"},
"labelFontSize":{"condition":[{"test":"timeFormat(datum.value, '%Y-%m-%d') == '2011-03-28'","value":14},{"test":"timeFormat(datum.value, '%Y-%m-%d') == '2012-07-25'","value":10.5}],"value":12},
"labelColor":{"condition":{"test":"timeFormat(datum.value, '%Y-%m-%d') == '2018-03-13'","value":"#666666"},"value":"#000000"}}},
"y":{"field":"c","type":"quantitative","scale":{"domain":[1.46,31.82],"nice":false,"zero":false},
"axis":{"orient":"right","title":null,"values":[2,4,6,8,10,12,14,16,18,20,22,24,26,28,30],"grid":true,"gridColor":"#e0e0e0","domain":false,"ticks":true,"tickSize":4,"tickColor":"#999999","labelPadding":1,"labelFont":"Liberation Sans","labelFontSize":10.5,"labelColor":"#222222","labelOverlap":false,"labelFlush":false,"labelBound":false}},
"color":{"field":"dir","type":"nominal","scale":{"domain":["GRPN (Daily) 3.55","down"],"range":["#000000","#e0143c"]},"legend":null}
}
},
{
"data":{"name":"last"},
"mark":{"type":"point","shape":"M0.32,0L1.92,-1.4H7.32V1.4H1.92Z","size":100,"filled":true,"fill":"#ffffff","stroke":"#000000","strokeWidth":1,"opacity":1},
"encoding":{
"x":{"field":"d","type":"temporal","scale":{"domain":[{"year":2011,"month":3,"date":28},{"year":2019,"month":4,"date":20}]},"axis":null},
"y":{"field":"p","type":"quantitative","scale":{"domain":[1.46,31.82],"nice":false,"zero":false},
"axis":{"orient":"right","title":null,"values":[2,4,6,8,10,12,14,16,18,20,22,24,26,28,30],"grid":true,"gridColor":"#e0e0e0","domain":false,"ticks":true,"tickSize":4,"tickColor":"#999999","labelPadding":1,"labelFont":"Liberation Sans","labelFontSize":10.5,"labelColor":"#222222","labelOverlap":false,"labelFlush":false,"labelBound":false}}
}
},
{
"data":{"name":"last"},
"mark":{"type":"text","align":"left","baseline":"middle","dx":11.5,"font":"Liberation Sans","fontWeight":"bold","fontSize":11,"color":"#000000"},
"encoding":{
"x":{"field":"d","type":"temporal","scale":{"domain":[{"year":2011,"month":3,"date":28},{"year":2019,"month":4,"date":20}]},"axis":null},
"y":{"field":"p","type":"quantitative","scale":{"domain":[1.46,31.82],"nice":false,"zero":false},
"axis":{"orient":"right","title":null,"values":[2,4,6,8,10,12,14,16,18,20,22,24,26,28,30],"grid":true,"gridColor":"#e0e0e0","domain":false,"ticks":true,"tickSize":4,"tickColor":"#999999","labelPadding":1,"labelFont":"Liberation Sans","labelFontSize":10.5,"labelColor":"#222222","labelOverlap":false,"labelFlush":false,"labelBound":false}},
"text":{"field":"p","type":"quantitative","format":".2f"}
}
}
],
"resolve":{"axis":{"x":"independent"}}
}
